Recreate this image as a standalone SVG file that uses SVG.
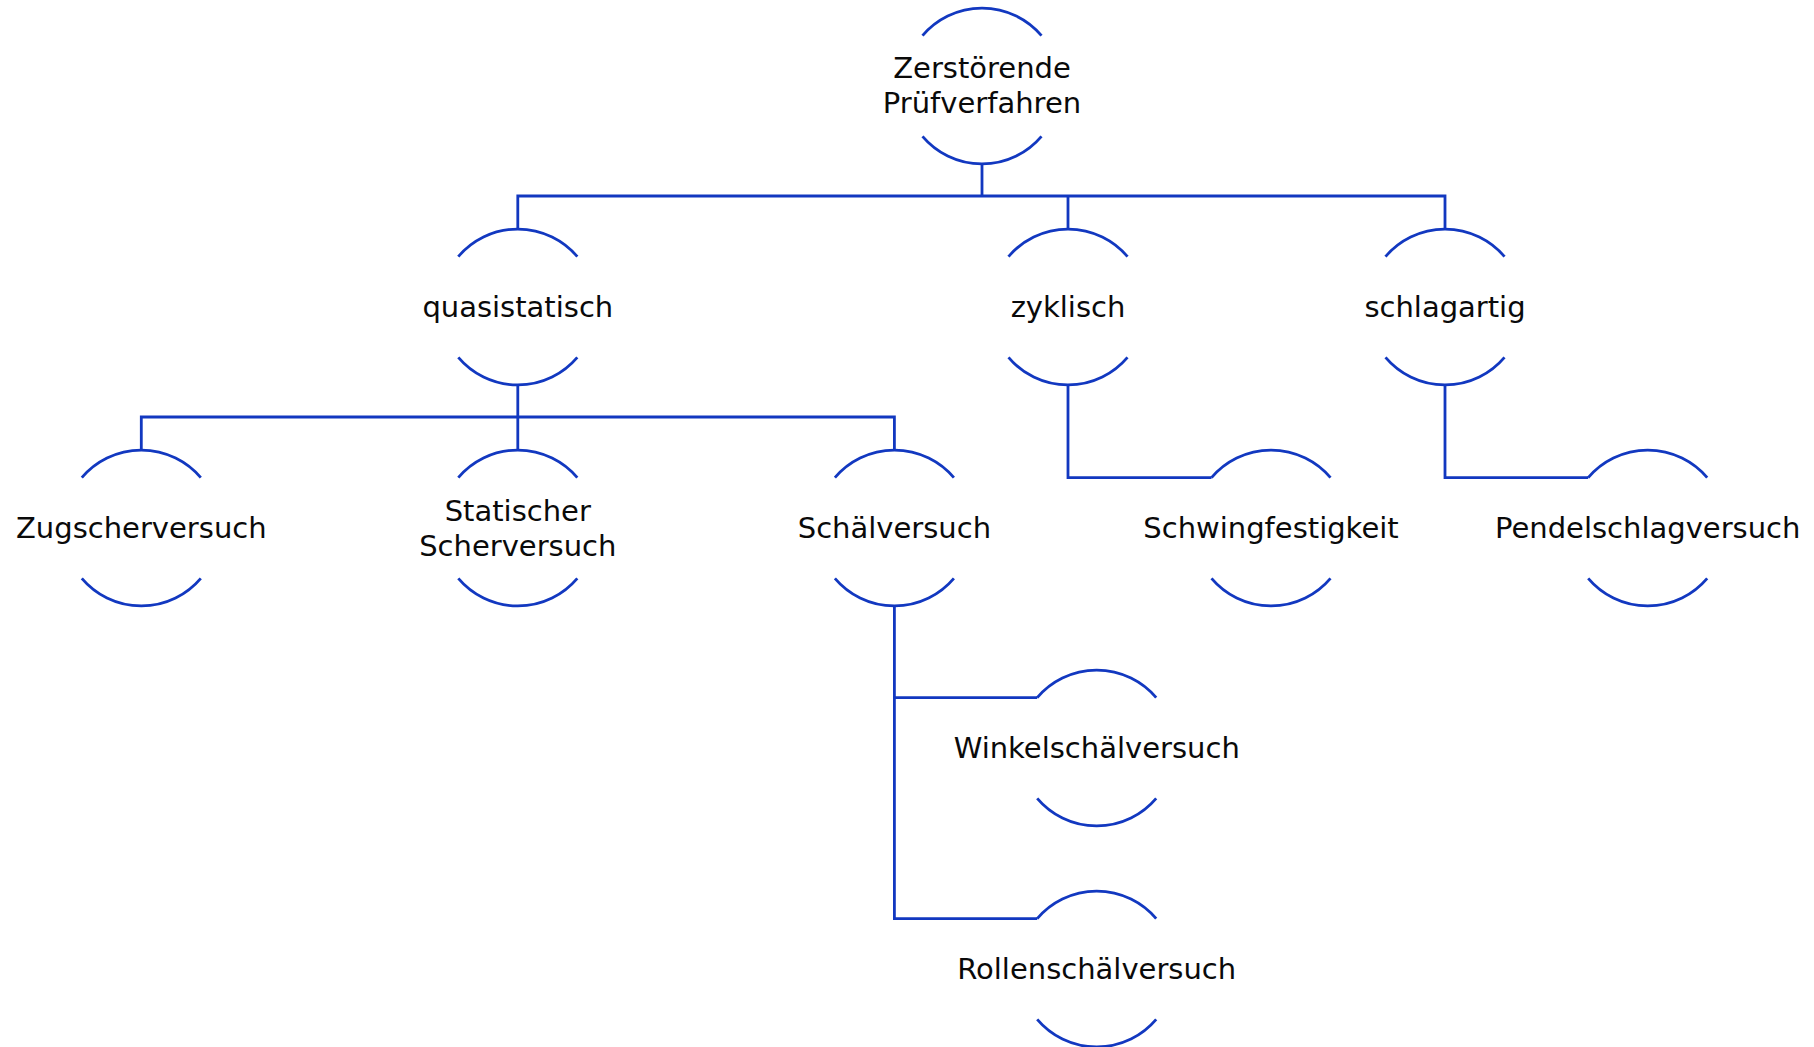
<svg xmlns="http://www.w3.org/2000/svg" width="1814" height="1047" viewBox="0 0 1814 1047">
<style>
.bg{fill:#ffffff}
.arc{fill:none;stroke:#1238c0;stroke-width:2.8}
.con{fill:none;stroke:#1238c0;stroke-width:2.8}
.lbl{font-family:"DejaVu Sans","Liberation Sans",sans-serif;font-size:29px;fill:#0a0a0a;text-anchor:middle}
</style>
<rect class="bg" x="0" y="0" width="1814" height="1047"/>
<g id="connectors">
<path class="con" d="M982 164 V196"/>
<path class="con" d="M517.8 229 V196 H1445 V229"/>
<path class="con" d="M1068 196 V229"/>
<path class="con" d="M517.8 385 V417"/>
<path class="con" d="M141.3 450 V417 H894.4 V450"/>
<path class="con" d="M517.8 417 V450"/>
<path class="con" d="M1068 385 V477.6 H1211.5"/>
<path class="con" d="M1445 385 V477.6 H1588.2"/>
<path class="con" d="M894.4 606 V918.6 H1037.2"/>
<path class="con" d="M894.4 697.6 H1037.2"/>
</g>
<g id="n-zerstoerende">
<path class="arc" d="M922.5 35.6 A78 78 0 0 1 1041.5 35.6"/>
<path class="arc" d="M922.5 136.4 A78 78 0 0 0 1041.5 136.4"/>
<text class="lbl" x="982" y="78">Zerstörende</text>
<text class="lbl" x="982" y="113">Prüfverfahren</text>
</g>
<g id="n-quasistatisch">
<path class="arc" d="M458.3 256.6 A78 78 0 0 1 577.3 256.6"/>
<path class="arc" d="M458.3 357.4 A78 78 0 0 0 577.3 357.4"/>
<text class="lbl" x="517.8" y="317">quasistatisch</text>
</g>
<g id="n-zyklisch">
<path class="arc" d="M1008.5 256.6 A78 78 0 0 1 1127.5 256.6"/>
<path class="arc" d="M1008.5 357.4 A78 78 0 0 0 1127.5 357.4"/>
<text class="lbl" x="1068" y="317">zyklisch</text>
</g>
<g id="n-schlagartig">
<path class="arc" d="M1385.5 256.6 A78 78 0 0 1 1504.5 256.6"/>
<path class="arc" d="M1385.5 357.4 A78 78 0 0 0 1504.5 357.4"/>
<text class="lbl" x="1445" y="317">schlagartig</text>
</g>
<g id="n-zugscherversuch">
<path class="arc" d="M81.8 477.6 A78 78 0 0 1 200.8 477.6"/>
<path class="arc" d="M81.8 578.4 A78 78 0 0 0 200.8 578.4"/>
<text class="lbl" x="141.3" y="538">Zugscherversuch</text>
</g>
<g id="n-statischer">
<path class="arc" d="M458.3 477.6 A78 78 0 0 1 577.3 477.6"/>
<path class="arc" d="M458.3 578.4 A78 78 0 0 0 577.3 578.4"/>
<text class="lbl" x="517.8" y="520.5">Statischer</text>
<text class="lbl" x="517.8" y="555.5">Scherversuch</text>
</g>
<g id="n-schaelversuch">
<path class="arc" d="M834.9 477.6 A78 78 0 0 1 953.9 477.6"/>
<path class="arc" d="M834.9 578.4 A78 78 0 0 0 953.9 578.4"/>
<text class="lbl" x="894.4" y="538">Schälversuch</text>
</g>
<g id="n-schwingfestigkeit">
<path class="arc" d="M1211.5 477.6 A78 78 0 0 1 1330.5 477.6"/>
<path class="arc" d="M1211.5 578.4 A78 78 0 0 0 1330.5 578.4"/>
<text class="lbl" x="1271" y="538">Schwingfestigkeit</text>
</g>
<g id="n-pendelschlagversuch">
<path class="arc" d="M1588.2 477.6 A78 78 0 0 1 1707.2 477.6"/>
<path class="arc" d="M1588.2 578.4 A78 78 0 0 0 1707.2 578.4"/>
<text class="lbl" x="1647.7" y="538">Pendelschlagversuch</text>
</g>
<g id="n-winkelschaelversuch">
<path class="arc" d="M1037.2 697.6 A78 78 0 0 1 1156.2 697.6"/>
<path class="arc" d="M1037.2 798.4 A78 78 0 0 0 1156.2 798.4"/>
<text class="lbl" x="1096.7" y="758">Winkelschälversuch</text>
</g>
<g id="n-rollenschaelversuch">
<path class="arc" d="M1037.2 918.6 A78 78 0 0 1 1156.2 918.6"/>
<path class="arc" d="M1037.2 1019.4 A78 78 0 0 0 1156.2 1019.4"/>
<text class="lbl" x="1096.7" y="979">Rollenschälversuch</text>
</g>
</svg>
